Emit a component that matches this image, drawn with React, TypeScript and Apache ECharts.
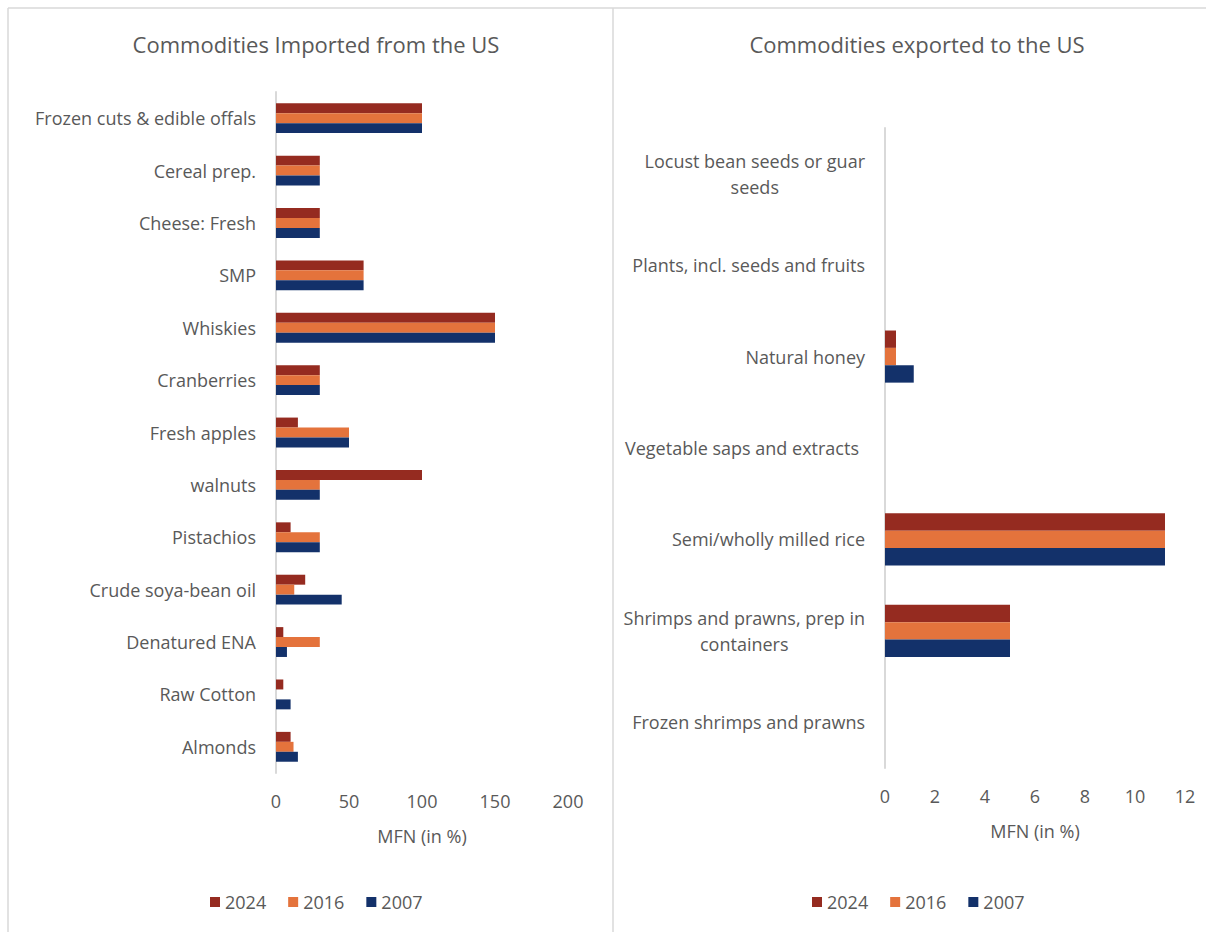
import React, { useEffect, useRef } from "react";
import * as echarts from "echarts";

// Commodities imported from the US (MFN tariff, %)
const importCategories = [
  "Frozen cuts & edible offals",
  "Cereal prep.",
  "Cheese: Fresh",
  "SMP",
  "Whiskies",
  "Cranberries",
  "Fresh apples",
  "walnuts",
  "Pistachios",
  "Crude soya-bean oil",
  "Denatured ENA",
  "Raw Cotton",
  "Almonds",
];
const import2024 = [100, 30, 30, 60, 150, 30, 15, 100, 10, 20, 5, 5, 10];
const import2016 = [100, 30, 30, 60, 150, 30, 50, 30, 30, 12.5, 30, 0, 12];
const import2007 = [100, 30, 30, 60, 150, 30, 50, 30, 30, 45, 7.5, 10, 15];

// Commodities exported to the US (MFN tariff, %)
const exportCategories = [
  "Locust bean seeds or guar\nseeds",
  "Plants, incl. seeds and fruits",
  "Natural honey",
  "Vegetable saps and extracts",
  "Semi/wholly milled rice",
  "Shrimps and prawns, prep in\ncontainers",
  "Frozen shrimps and prawns",
];
const export2024 = [0, 0, 0.44, 0, 11.2, 5, 0];
const export2016 = [0, 0, 0.44, 0, 11.2, 5, 0];
const export2007 = [0, 0, 1.15, 0, 11.2, 5, 0];

// Labels too long for the label column run past it towards the axis
const overflowLabels = ["Vegetable saps and extracts"];

const years = ["2024", "2016", "2007"];
const colors = ["#952B20", "#E4733C", "#13316A"];

const FONT = "Open Sans";
const TEXT = "#595959";
const LINE = "#D9D9D9";
const FS = 18;

export default function App() {
  const ref = useRef<HTMLDivElement>(null);

  useEffect(() => {
    if (!ref.current) return;
    const chart = echarts.init(ref.current, undefined, { renderer: "svg" });

    const valueAxis = (gridIndex: number, max: number, interval: number) => ({
      type: "value",
      gridIndex,
      min: 0,
      max,
      interval,
      name: "MFN (in %)",
      nameLocation: "middle",
      nameGap: 54,
      nameTextStyle: { color: TEXT, fontSize: FS, fontFamily: FONT },
      axisLine: { show: false },
      axisTick: { show: false },
      splitLine: { show: false },
      axisLabel: { color: TEXT, fontSize: FS, fontFamily: FONT, margin: 19 },
    });

    const categoryAxis = (gridIndex: number, data: string[]) => ({
      type: "category",
      gridIndex,
      data,
      inverse: true,
      axisLine: { show: true, lineStyle: { color: LINE, width: 2 } },
      axisTick: { show: false },
      axisLabel: {
        color: TEXT,
        fontSize: FS,
        fontFamily: FONT,
        margin: 20,
        formatter: (v: string) =>
          overflowLabels.includes(v)
            ? `{o|${v}}`
            : v
                .split("\n")
                .map((l) => `{c|${l}}`)
                .join("\n"),
        rich: {
          c: { align: "center", color: TEXT, fontSize: FS, fontFamily: FONT, lineHeight: 26 },
          o: { align: "left", width: 240, color: TEXT, fontSize: FS, fontFamily: FONT, lineHeight: 26 },
        },
      },
    });

    const barSeries = (idx: number, data: number[], axisIndex: number) => ({
      type: "bar",
      name: years[idx],
      data,
      xAxisIndex: axisIndex,
      yAxisIndex: axisIndex,
      barGap: "0%",
      barCategoryGap: "43%",
      itemStyle: { color: colors[idx] },
    });

    const legend = (left: number) => ({
      data: years,
      left,
      top: 888,
      padding: 5,
      itemWidth: 10,
      itemHeight: 10,
      itemGap: 22,
      icon: "rect",
      textStyle: { color: TEXT, fontSize: FS, fontFamily: FONT },
    });

    const titleStyle = { color: TEXT, fontSize: 22, fontWeight: "normal", fontFamily: FONT };

    chart.setOption({
      animation: false,
      backgroundColor: "#FFFFFF",
      textStyle: { fontFamily: FONT },
      title: [
        { text: "Commodities Imported from the US", left: 311, top: 28, textAlign: "center", textStyle: titleStyle },
        { text: "Commodities exported to the US", left: 912, top: 28, textAlign: "center", textStyle: titleStyle },
      ],
      legend: [legend(205), legend(807)],
      grid: [
        { left: 276, top: 92, width: 292, height: 681, containLabel: false },
        { left: 885, top: 128, width: 300, height: 640, containLabel: false },
      ],
      xAxis: [valueAxis(0, 200, 50), valueAxis(1, 12, 2)],
      yAxis: [categoryAxis(0, importCategories), categoryAxis(1, exportCategories)],
      series: [
        barSeries(0, import2024, 0),
        barSeries(1, import2016, 0),
        barSeries(2, import2007, 0),
        barSeries(0, export2024, 1),
        barSeries(1, export2016, 1),
        barSeries(2, export2007, 1),
      ],
      graphic: [
        { type: "line", shape: { x1: 8, y1: 8, x2: 1206, y2: 8 }, style: { stroke: LINE, lineWidth: 1.5 } },
        { type: "line", shape: { x1: 8, y1: 8, x2: 8, y2: 932 }, style: { stroke: LINE, lineWidth: 1.5 } },
        { type: "line", shape: { x1: 613, y1: 8, x2: 613, y2: 932 }, style: { stroke: LINE, lineWidth: 1.5 } },
      ],
    });

    return () => chart.dispose();
  }, []);

  return (
    <div
      ref={ref}
      style={{ position: "fixed", left: 0, top: 0, width: 1206, height: 932, background: "#fff" }}
    />
  );
}
